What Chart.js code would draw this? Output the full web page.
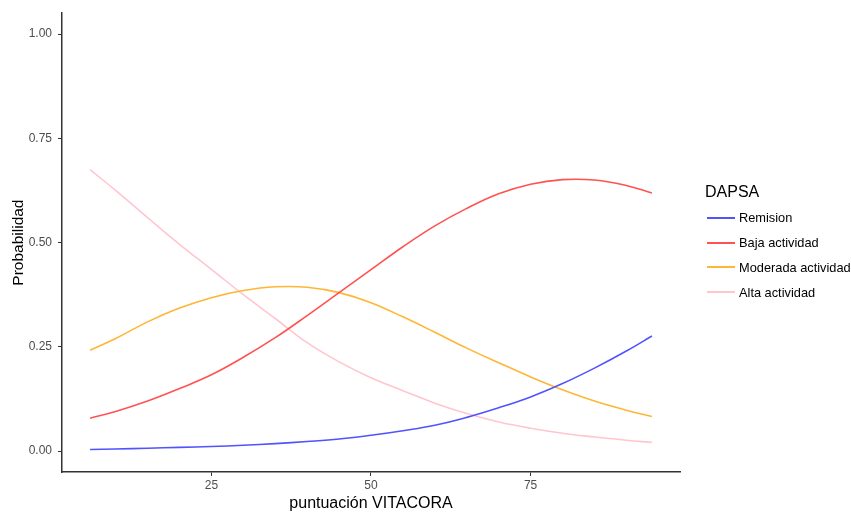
<!DOCTYPE html>
<html>
<head>
<meta charset="utf-8">
<script src="https://cdn.jsdelivr.net/npm/chart.js@4"></script>
<style>
  html, body { margin: 0; padding: 0; background: #fff; }
  #wrap { position: relative; width: 851px; height: 513px; }
  #legend { position: absolute; left: 705px; top: 183px; font-family: "Liberation Sans", Arial, sans-serif; }
  #legend .title { font-size: 16px; line-height: 18px; color: #000; margin-bottom: 4.6px; }
  #legend .item { display: flex; align-items: center; height: 24.7px; font-size: 12.8px; color: #000; }
  #legend .key { width: 28px; height: 2px; margin-left: 2px; margin-right: 4px; }
</style>
</head>
<body>
<div id="wrap">
  <canvas id="chart" width="851" height="513"></canvas>
  <div id="legend"></div>
</div>
<script>
const xValues = [6, 10, 15, 20, 25, 30, 35, 40, 45, 50, 55, 60, 65, 70, 75, 80, 85, 90, 94];
const remision = [0.004, 0.005, 0.007, 0.009, 0.011, 0.014, 0.018, 0.023, 0.029, 0.038, 0.049, 0.062, 0.081, 0.104, 0.13, 0.162, 0.199, 0.24, 0.276];
const baja = [0.079, 0.095, 0.12, 0.15, 0.183, 0.225, 0.272, 0.325, 0.38, 0.435, 0.49, 0.54, 0.582, 0.617, 0.64, 0.651, 0.65, 0.637, 0.619];
const moderada = [0.242, 0.27, 0.31, 0.343, 0.368, 0.385, 0.394, 0.393, 0.38, 0.356, 0.322, 0.285, 0.247, 0.212, 0.178, 0.147, 0.12, 0.098, 0.083];
const alta = [0.675, 0.625, 0.56, 0.496, 0.436, 0.375, 0.318, 0.26, 0.214, 0.176, 0.145, 0.115, 0.09, 0.07, 0.055, 0.043, 0.034, 0.026, 0.021];

const seriesNames = ['Remision', 'Baja actividad', 'Moderada actividad', 'Alta actividad'];
const seriesData = [remision, baja, moderada, alta];
const seriesColors = ['#5252ff', '#ff5252', '#ffb634', '#ffc6d0'];

const xTicks = [25, 50, 75];
const yTicks = [0, 0.25, 0.5, 0.75, 1];

const font = "'Liberation Sans', Arial, sans-serif";
const tickColor = '#4d4d4d';

const datasets = seriesNames.map((name, i) => ({
  label: name,
  data: xValues.map((x, j) => ({ x: x, y: seriesData[i][j] })),
  borderColor: seriesColors[i],
  backgroundColor: seriesColors[i],
  borderWidth: 1.6,
  pointRadius: 0,
  tension: 0.4,
  fill: false
}));

new Chart(document.getElementById('chart'), {
  type: 'line',
  data: { datasets: datasets },
  options: {
    responsive: false,
    animation: false,
    layout: { padding: { top: 12, right: 171, left: 0, bottom: 0 } },
    plugins: { legend: { display: false }, tooltip: { enabled: false } },
    scales: {
      x: {
        type: 'linear',
        min: 1.6,
        max: 98.4,
        afterBuildTicks: (scale) => { scale.ticks = xTicks.map(v => ({ value: v })); },
        afterFit: (scale) => { scale.height = 41; },
        grid: { drawOnChartArea: false, drawTicks: true, tickLength: 4, color: '#333' },
        border: { display: true, color: '#333', width: 1.5 },
        ticks: { color: tickColor, font: { family: font, size: 12 }, padding: 2, maxRotation: 0 },
        title: { display: true, text: 'puntuación VITACORA', color: '#000', font: { family: font, size: 16 }, padding: { top: 2, bottom: 0 } }
      },
      y: {
        min: -0.05,
        max: 1.05,
        afterBuildTicks: (scale) => { scale.ticks = yTicks.map(v => ({ value: v })); },
        afterFit: (scale) => { scale.width = 62; },
        grid: { drawOnChartArea: false, drawTicks: true, tickLength: 4, color: '#333' },
        border: { display: true, color: '#333', width: 1.5 },
        ticks: { color: tickColor, font: { family: font, size: 12 }, padding: 6, callback: (v) => v.toFixed(2) },
        title: { display: true, text: 'Probabilidad', color: '#000', font: { family: font, size: 15.5 }, padding: { top: 9, bottom: 0 } }
      }
    }
  }
});

const legend = document.getElementById('legend');
legend.innerHTML = '<div class="title">DAPSA</div>' + seriesNames.map((name, i) =>
  '<div class="item"><span class="key" style="background:' + seriesColors[i] + '"></span>' + name + '</div>'
).join('');
</script>
</body>
</html>
